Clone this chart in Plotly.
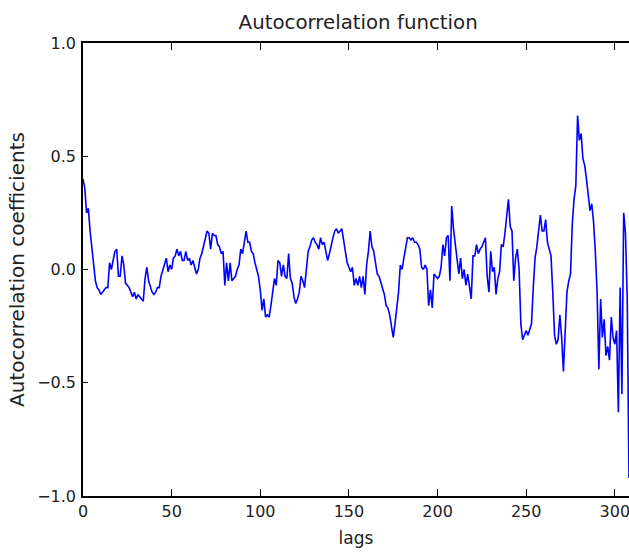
import plotly.graph_objects as go

title_text = "Autocorrelation function"
x_label = "lags"
y_label = "Autocorrelation coefficients"

acf_values = [
    0.40, 0.36, 0.25, 0.27, 0.17, 0.10, 0.04, -0.05, -0.08, -0.09,
    -0.11, -0.10, -0.09, -0.08, -0.08, 0.03, 0.00, 0.04, 0.08, 0.09,
    -0.03, -0.03, 0.06, 0.02, -0.06, -0.07, -0.08, -0.10, -0.12, -0.10,
    -0.13, -0.11, -0.12, -0.13, -0.14, -0.04, 0.01, -0.05, -0.08, -0.10,
    -0.11, -0.10, -0.08, -0.08, -0.03, 0.00, 0.02, 0.05, -0.01, 0.02,
    0.00, 0.05, 0.06, 0.09, 0.06, 0.08, 0.04, 0.04, 0.08, 0.04,
    0.05, 0.02, 0.04, 0.01, -0.02, 0.00, 0.05, 0.07, 0.10, 0.13,
    0.17, 0.16, 0.09, 0.16, 0.15, 0.15, 0.11, 0.10, 0.07, 0.08,
    -0.07, 0.03, -0.05, 0.03, -0.05, -0.04, -0.03, 0.00, 0.02, 0.09,
    0.07, 0.12, 0.17, 0.12, 0.12, 0.08, 0.07, 0.03, 0.00, -0.03,
    -0.09, -0.18, -0.13, -0.21, -0.20, -0.21, -0.16, -0.10, -0.04, -0.07,
    0.04, 0.03, -0.03, 0.02, -0.03, -0.04, 0.07, -0.04, -0.06, -0.12,
    -0.15, -0.13, -0.10, -0.03, -0.05, -0.08, 0.01, 0.08, 0.10, 0.13,
    0.14, 0.12, 0.11, 0.09, 0.14, 0.11, 0.12, 0.08, 0.04, 0.07,
    0.11, 0.14, 0.17, 0.18, 0.16, 0.17, 0.18, 0.13, 0.07, 0.03,
    0.01, -0.01, 0.01, -0.07, -0.04, -0.07, -0.03, -0.08, -0.03, -0.11,
    0.02, 0.08, 0.17, 0.10, 0.08, 0.03, -0.02, -0.03, -0.06, -0.09,
    -0.11, -0.16, -0.17, -0.20, -0.25, -0.30, -0.24, -0.17, -0.10, 0.02,
    0.00, 0.05, 0.10, 0.14, 0.14, 0.13, 0.14, 0.12, 0.12, 0.11,
    0.09, 0.01, 0.00, 0.02, 0.00, -0.16, -0.09, -0.17, -0.02, -0.03,
    -0.04, -0.03, 0.01, 0.11, 0.06, 0.14, 0.15, -0.05, 0.28, 0.18,
    0.11, 0.04, -0.02, 0.05, -0.04, 0.00, -0.07, -0.02, -0.08, -0.13,
    0.06, 0.06, 0.11, 0.07, 0.09, 0.10, 0.12, 0.14, -0.03, -0.10,
    0.08, -0.01, 0.01, -0.11, -0.04, -0.01, 0.11, 0.10, 0.16, 0.23,
    0.31, 0.19, 0.17, -0.05, 0.05, 0.09, 0.00, -0.24, -0.31, -0.29,
    -0.27, -0.29, -0.26, -0.24, -0.08, 0.05, 0.10, 0.17, 0.24, 0.17,
    0.17, 0.22, 0.12, 0.09, 0.06, -0.10, -0.29, -0.33, -0.31, -0.20,
    -0.30, -0.45, -0.24, -0.10, -0.05, -0.02, 0.20, 0.31, 0.37, 0.68,
    0.57, 0.60, 0.49, 0.46, 0.40, 0.32, 0.26, 0.29, 0.21, 0.08,
    -0.10, -0.44, -0.13, -0.30, -0.22, -0.38, -0.34, -0.40, -0.21, -0.30,
    -0.33, -0.27, -0.63, -0.08, -0.55, 0.25, 0.16, -0.13, -0.92,
]
lags = list(range(len(acf_values)))

x_ticks = [0, 50, 100, 150, 200, 250, 300]
y_ticks = [-1.0, -0.5, 0.0, 0.5, 1.0]
y_tick_labels = ["\u22121.0", "\u22120.5", "0.0", "0.5", "1.0"]

FONT = "DejaVu Sans, Arial, sans-serif"
TXT = "#222222"

fig = go.Figure()
fig.add_trace(go.Scatter(
    x=lags, y=acf_values, mode="lines",
    line=dict(color="#0000ff", width=1.6),
    showlegend=False,
))

fig.update_layout(
    width=629, height=552,
    margin=dict(l=83, r=0, t=43, b=56),
    paper_bgcolor="white", plot_bgcolor="white",
    font=dict(family=FONT, color=TXT),
    title=dict(text=title_text, x=0.504, xref="paper", xanchor="center",
               y=1 - 22 / 552, yref="container", yanchor="middle",
               font=dict(size=19.8, family=FONT, color=TXT)),
    xaxis=dict(
        range=[0, 308], tickvals=x_ticks, ticktext=[str(v) for v in x_ticks],
        showgrid=False, zeroline=False,
        showline=True, linecolor="black", linewidth=1.5, mirror="ticks",
        ticks="inside", ticklen=7, tickwidth=1, tickcolor="black",
        tickfont=dict(size=16, family=FONT, color=TXT),
        ticklabeloverflow="allow",
        title=dict(text=x_label, font=dict(size=17, family=FONT, color=TXT), standoff=12),
    ),
    yaxis=dict(
        range=[-1.0, 1.0], tickvals=y_ticks, ticktext=y_tick_labels,
        showgrid=False, zeroline=False,
        showline=True, linecolor="black", linewidth=1.5, mirror=False,
        ticks="inside", ticklen=5, tickwidth=1, tickcolor="black",
        tickfont=dict(size=16, family=FONT, color=TXT),
        ticklabelstandoff=2,
        title=dict(text=y_label, font=dict(size=20, family=FONT, color=TXT), standoff=7),
    ),
)

fig.write_html("out.html")
